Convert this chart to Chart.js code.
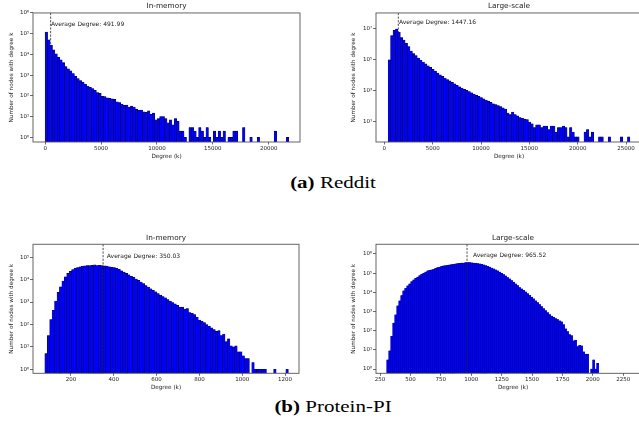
<!DOCTYPE html>
<html>
<head>
<meta charset="utf-8">
<script src="https://cdn.jsdelivr.net/npm/chart.js@4.4.1/dist/chart.umd.min.js"></script>
<style>
  html, body { margin: 0; padding: 0; background: #fff; overflow: hidden; width: 639px; height: 428px; }
  canvas { position: absolute; }
  .cap { position: absolute; left: 0; width: 666px; text-align: center; font-family: "Liberation Serif", "Times New Roman", serif;
         font-size: 21px; line-height: 21px; color: #000; transform: scaleY(0.78); transform-origin: 0 0; }
</style>
</head>
<body>
<canvas id="redditMem" width="320" height="165" style="left:0;top:0"></canvas>
<canvas id="redditLarge" width="340" height="165" style="left:320px;top:0"></canvas>
<canvas id="proteinMem" width="320" height="165" style="left:0;top:230px"></canvas>
<canvas id="proteinLarge" width="340" height="165" style="left:320px;top:230px"></canvas>
<div class="cap" style="top:175px"><b>(a)</b> Reddit</div>
<div class="cap" style="top:399px"><b>(b)</b> Protein-PI</div>

<script>
// Reddit, in-memory (bins start at 0, 218 wide)
var redditMemStart = 0, redditMemWidth = 218, redditMemAvg = 491.99;
var redditMemCounts = [
  120000, 50000, 28000, 16600, 10700, 7400, 5500, 4000, 2600, 2000,
  1600, 1200, 890, 680, 550, 450, 370, 300, 257, 224,
  186, 145, 132, 95, 93, 80, 76, 72, 68, 52,
  48, 40, 35, 36, 29, 32, 29, 23, 20, 21,
  17, 16, 19, 13, 15, 7, 8, 10, 10, 8,
  5, 7, 4, 8, 6, 2, 2, 1, null, 3,
  3, 2, 1, 3, 2, 1, 3, 1, null, 2,
  1, 2, 1, 2, null, 1, 1, 2, 2, null,
  null, 3, null, null, 1, null, null, 1, null, null,
  null, null, null, null, 2, null, null, null, null, 1
];

// Reddit, large-scale
var redditLargeStart = 400, redditLargeWidth = 250, redditLargeAvg = 1447.16;
var redditLargeCounts = [
  100000, 3700000, 8100000, 10000000, 6300000, 2800000, 1900000, 1170000, 710000, 370000,
  250000, 186000, 129000, 93000, 71000, 54000, 41000, 32000, 24000, 18200,
  13800, 10500, 8300, 6600, 5200, 4300, 3400, 2750, 2200, 1780,
  1480, 1230, 1050, 870, 720, 600, 500, 420, 350, 290,
  245, 205, 170, 141, 123, 107, 91, 76, 63, 35,
  28, 40, 28, 23, 18, 16, 14, 13, 9, 7,
  4, 6, 6, 4, 5, 5, 3, 5, 5, 2,
  4, 4, 5, 4, 1, 4, 2, 1, 1, null,
  null, 2, 3, 1, 2, null, null, 1, 1, null,
  null, 1, null, null, null, null, 1, null, null, 1
];

// Protein-PI, in-memory
var proteinMemStart = 78, proteinMemWidth = 11.37, proteinMemAvg = 350.03;
var proteinMemCounts = [
  5, 32, 165, 430, 1100, 2700, 4800, 8700, 13500, 19000,
  23500, 28000, 32000, 35000, 37500, 40000, 41000, 42500, 42000, 44000,
  45500, 43000, 44000, 42000, 41000, 40000, 37500, 35500, 34500, 32000,
  29000, 25000, 22000, 19000, 16500, 14000, 12600, 10700, 9300, 7800,
  6600, 5500, 4650, 3900, 3300, 2870, 2400, 2030, 1770, 1540,
  1300, 1100, 950, 830, 720, 600, 600, 480, 510, 340,
  315, 275, 210, 158, 138, 120, 98, 83, 70, 59,
  49, 53, 32, 37, 17, 23, 11, 10, 11, 6,
  6, 4, 3, 3, null, 2, 1, 1, 1, 1,
  1, null, null, null, 1, null, null, null, null, 1
];

// Protein-PI, large-scale
var proteinLargeStart = 305, proteinLargeWidth = 16.44, proteinLargeAvg = 965.52;
var proteinLargeCounts = [
  3, 9, 50, 250, 680, 2000, 3600, 6800, 12000, 16000,
  22000, 27500, 36000, 44500, 54000, 63000, 74000, 87000, 98000, 115000,
  132000, 141000, 148000, 158000, 178000, 195000, 209000, 229000, 240000, 246000,
  257000, 269000, 282000, 288000, 302000, 316000, 324000, 339000, 339000, 355000,
  355000, 355000, 347000, 339000, 324000, 316000, 302000, 288000, 269000, 246000,
  229000, 209000, 186000, 166000, 148000, 132000, 115000, 98000, 85000, 72000,
  59000, 50000, 41000, 34000, 27500, 22400, 17800, 15100, 12600, 10500,
  8500, 6900, 5600, 4600, 3600, 2900, 2300, 1800, 1400, 1100,
  870, 690, 575, 500, 430, 380, 330, 290, 205, 126,
  91, 62, 55, 30, 32, 15, 17, 16, 8, 6,
  6, null, 1, 3, 1, 2
];

// tick values
var redditMemXTicks = [0, 5000, 10000, 15000, 20000];
var redditLargeXTicks = [0, 5000, 10000, 15000, 20000, 25000];
var proteinMemXTicks = [200, 400, 600, 800, 1000, 1200];
var proteinLargeXTicks = [250, 500, 750, 1000, 1250, 1500, 1750, 2000, 2250];
var redditMemYExp = [0, 1, 2, 3, 4, 5, 6];
var redditLargeYExp = [1, 3, 5, 7];
var proteinMemYExp = [0, 1, 2, 3, 4, 5];
var proteinLargeYExp = [0, 1, 2, 3, 4, 5, 6];

Chart.defaults.font.family = 'DejaVu Sans';
Chart.defaults.color = '#222';

var supDigits = ['⁰', '¹', '²', '³', '⁴', '⁵', '⁶', '⁷', '⁸', '⁹'];
function powLabel(v) {
  var e = Math.round(Math.log10(v));
  return '10' + String(e).split('').map(d => supDigits[+d]).join('');
}

var avgLinePlugin = {
  id: 'avgLine',
  afterDatasetsDraw(chart, args, opts) {
    const { ctx, chartArea, scales } = chart;
    const x = scales.x.getPixelForValue(opts.value);
    ctx.save();
    ctx.strokeStyle = '#222';
    ctx.lineWidth = 0.8;
    ctx.setLineDash([2.2, 1.4]);
    ctx.beginPath();
    ctx.moveTo(x, chartArea.top);
    ctx.lineTo(x, chartArea.bottom);
    ctx.stroke();
    ctx.setLineDash([]);
    ctx.fillStyle = '#222';
    ctx.font = '6px "DejaVu Sans"';
    ctx.textBaseline = 'alphabetic';
    ctx.fillText(opts.text, scales.x.getPixelForValue(opts.value * 1.05), scales.y.getPixelForValue(opts.labelY));
    ctx.restore();
  }
};

var framePlugin = {
  id: 'frame',
  afterDraw(chart) {
    const { ctx, chartArea: a } = chart;
    ctx.save();
    ctx.strokeStyle = '#555';
    ctx.lineWidth = 0.9;
    ctx.strokeRect(a.left, a.top, a.right - a.left, a.bottom - a.top);
    ctx.restore();
  }
};

function drawHist(id, cfg) {
  const points = cfg.counts.map((c, i) => ({ x: cfg.start + cfg.width * (i + 0.5), y: c }));
  const peak = Math.max(...cfg.counts.filter(c => c !== null));
  new Chart(document.getElementById(id), {
    type: 'bar',
    data: {
      datasets: [{
        data: points,
        backgroundColor: '#0000ff',
        borderColor: '#000',
        borderWidth: cfg.edge,
        borderSkipped: 'start',
        barPercentage: 1,
        categoryPercentage: 1
      }]
    },
    options: {
      responsive: false,
      animation: false,
      layout: { padding: cfg.pad },
      plugins: {
        legend: { display: false },
        tooltip: { enabled: false },
        title: {
          display: true, text: cfg.title, fullSize: false,
          font: { size: 7.3, weight: 'normal' }, color: '#222',
          padding: { top: cfg.titlePadTop, bottom: cfg.titlePadBottom }
        },
        avgLine: { value: cfg.avg, text: 'Average Degree: ' + cfg.avg.toFixed(2), labelY: peak * 2 }
      },
      scales: {
        x: {
          type: 'linear', min: cfg.xMin, max: cfg.xMax, offset: false,
          afterBuildTicks: s => { s.ticks = cfg.xTicks.map(v => ({ value: v })); },
          afterFit: s => { s.height = 18; },
          ticks: { autoSkip: false, maxRotation: 0, padding: 0.5, font: { size: 5.5 }, callback: v => String(v) },
          grid: { display: true, drawOnChartArea: false, drawTicks: true, tickLength: 2.5, color: '#444', lineWidth: 0.8, offset: false },
          border: { display: false },
          title: { display: true, text: 'Degree (k)', font: { size: 5.7 }, padding: 0 }
        },
        y: {
          type: 'logarithmic', min: cfg.yMin, max: cfg.yMax,
          afterBuildTicks: s => { s.ticks = cfg.yExp.map(e => ({ value: Math.pow(10, e) })); },
          afterFit: s => { s.width = cfg.yWidth; },
          ticks: { autoSkip: false, padding: 0.8, font: { size: 5.5 }, callback: v => powLabel(v) },
          grid: { display: true, drawOnChartArea: false, drawTicks: true, tickLength: 3, color: '#444', lineWidth: 0.8 },
          border: { display: false },
          title: { display: true, text: 'Number of nodes with degree k', font: { size: 5.7 }, padding: 0 }
        }
      }
    },
    plugins: [avgLinePlugin, framePlugin]
  });
}

drawHist('redditMem', {
  title: 'In-memory', counts: redditMemCounts, start: redditMemStart, width: redditMemWidth, avg: redditMemAvg,
  xMin: -1085, xMax: 22800, xTicks: redditMemXTicks, yMin: 0.62, yMax: 1.0e6, yExp: redditMemYExp, edge: 0.4,
  pad: { left: 8.4, right: 20, top: 0, bottom: 5 }, yWidth: 24.6, titlePadTop: 2.1, titlePadBottom: 2.1
});
drawHist('redditLarge', {
  title: 'Large-scale', counts: redditLargeCounts, start: redditLargeStart, width: redditLargeWidth, avg: redditLargeAvg,
  xMin: -862, xMax: 26650, xTicks: redditLargeXTicks, yMin: 0.46, yMax: 1.1e8, yExp: redditLargeYExp, edge: 0.4,
  pad: { left: 30, right: 18, top: 0, bottom: 5 }, yWidth: 26, titlePadTop: 2.1, titlePadBottom: 2.1
});
drawHist('proteinMem', {
  title: 'In-memory', counts: proteinMemCounts, start: proteinMemStart, width: proteinMemWidth, avg: proteinMemAvg,
  xMin: 22.6, xMax: 1265, xTicks: proteinMemXTicks, yMin: 0.66, yMax: 3.8e5, yExp: proteinMemYExp, edge: 0.35,
  pad: { left: 8.4, right: 21, top: 1, bottom: 3.7 }, yWidth: 24.6, titlePadTop: 2.3, titlePadBottom: 2.2
});
drawHist('proteinLarge', {
  title: 'Large-scale', counts: proteinLargeCounts, start: proteinLargeStart, width: proteinLargeWidth, avg: proteinLargeAvg,
  xMin: 217, xMax: 2470, xTicks: proteinLargeXTicks, yMin: 0.62, yMax: 3.2e6, yExp: proteinLargeYExp, edge: 0.1,
  pad: { left: 30, right: 10, top: 1, bottom: 3.7 }, yWidth: 26, titlePadTop: 2.3, titlePadBottom: 2.2
});
</script>
</body>
</html>
